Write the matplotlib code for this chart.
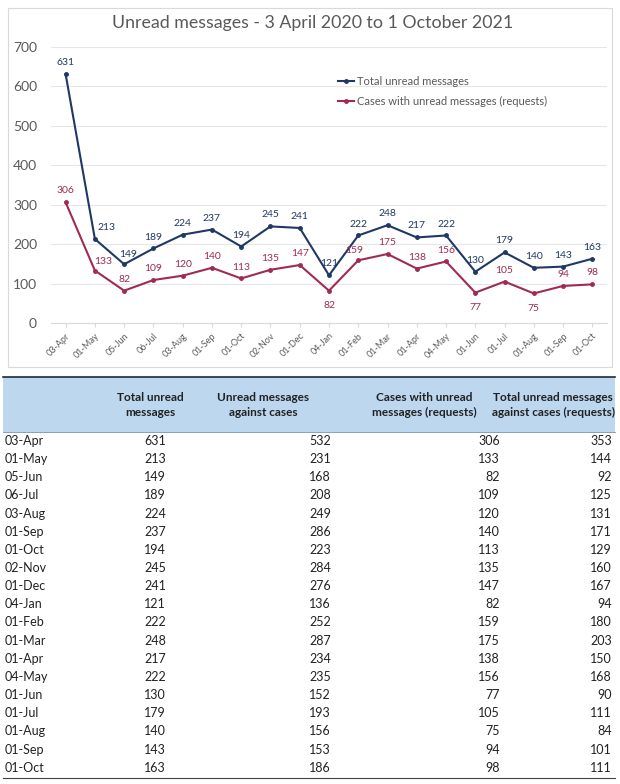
import matplotlib
matplotlib.use('Agg')
import matplotlib.pyplot as plt
from matplotlib.patches import Rectangle
from matplotlib.lines import Line2D

plt.rcParams['font.family'] = ['Lato', 'DejaVu Sans']

W, H = 620, 784

dates = ['03-Apr', '01-May', '05-Jun', '06-Jul', '03-Aug', '01-Sep', '01-Oct', '02-Nov',
         '01-Dec', '04-Jan', '01-Feb', '01-Mar', '01-Apr', '04-May', '01-Jun', '01-Jul',
         '01-Aug', '01-Sep', '01-Oct']
total_unread = [631, 213, 149, 189, 224, 237, 194, 245, 241, 121, 222, 248, 217, 222,
                130, 179, 140, 143, 163]
unread_vs_cases = [532, 231, 168, 208, 249, 286, 223, 284, 276, 136, 252, 287, 234, 235,
                   152, 193, 156, 153, 186]
cases_requests = [306, 133, 82, 109, 120, 140, 113, 135, 147, 82, 159, 175, 138, 156,
                  77, 105, 75, 94, 98]
total_vs_cases_req = [353, 144, 92, 125, 131, 171, 129, 160, 167, 94, 180, 203, 150, 168,
                      90, 111, 84, 101, 111]

headers = ['Total unread\nmessages', 'Unread messages\nagainst cases',
           'Cases with unread\nmessages (requests)', 'Total unread messages\nagainst cases (requests)']

BLUE = '#1F3864'
RED = '#A02B52'
GREY = '#595959'


def fx(x):
    return x / W


def fy(y):
    return 1 - y / H


fig = plt.figure(figsize=(W / 100, H / 100), dpi=100)

# chart frame
fig.patches.append(Rectangle((fx(8), fy(367)), fx(604), 359 / H, transform=fig.transFigure,
                             fill=False, edgecolor='#D9D9D9', linewidth=0.8))

ax = fig.add_axes([fx(51), fy(323), fx(556), 276 / H])
x = list(range(len(dates)))
ax.plot(x, total_unread, color=BLUE, lw=1.5, marker='o', ms=2.5, label='Total unread messages')
ax.plot(x, cases_requests, color=RED, lw=1.5, marker='o', ms=2.5,
        label='Cases with unread messages (requests)')

# label offsets in points (dx, dy); default is centred above
blue_off = {1: (8, 5), 2: (3, 4)}
red_off = {1: (6, 3), 9: (0, -14), 14: (0, -14), 16: (0, -14), 10: (-3, 4)}
for i, v in enumerate(total_unread):
    dx, dy = blue_off.get(i, (0, 5))
    ax.annotate(str(v), (i, v), xytext=(dx, dy), textcoords='offset points',
                ha='center', va='bottom', fontsize=7.5, color=BLUE)
for i, v in enumerate(cases_requests):
    dx, dy = red_off.get(i, (0, 5))
    ax.annotate(str(v), (i, v), xytext=(dx, dy), textcoords='offset points',
                ha='center', va='bottom', fontsize=7.5, color=RED)

ax.set_xlim(-0.5, len(dates) - 0.5)
ax.set_ylim(0, 700)
ax.set_yticks(range(0, 701, 100))
ax.set_xticks(x)
ax.set_xticklabels(dates, rotation=45, ha='right', rotation_mode='anchor', fontsize=6.5, color=GREY)
ax.tick_params(axis='y', length=0, labelsize=10, labelcolor=GREY, pad=10)
ax.tick_params(axis='x', length=3, color='#D9D9D9', pad=3)
ax.grid(axis='y', color='#E6E6E6', lw=0.8)
ax.set_axisbelow(True)
for s in ['top', 'right', 'left']:
    ax.spines[s].set_visible(False)
ax.spines['bottom'].set_color('#D9D9D9')

ax.legend(loc='upper left', bbox_to_anchor=(fx(328), fy(66)), bbox_transform=fig.transFigure,
          frameon=False, fontsize=8, labelcolor=GREY, handlelength=1.4, handletextpad=0.3,
          labelspacing=0.8)

fig.text(fx(313), fy(23), 'Unread messages - 3 April 2020 to 1 October 2021',
         ha='center', va='center', fontsize=12.8, color=GREY)

# table
fig.patches.append(Rectangle((fx(3), fy(432)), fx(612), 55 / H, transform=fig.transFigure,
                             facecolor='#BDD7EE', edgecolor='none'))
fig.lines.append(Line2D([fx(3), fx(615)], [fy(377), fy(377)], transform=fig.transFigure,
                        color='#1F2A3A', lw=1.2))
fig.lines.append(Line2D([fx(3), fx(615)], [fy(432), fy(432)], transform=fig.transFigure,
                        color='#7F8FA0', lw=0.6))
fig.lines.append(Line2D([fx(3), fx(615)], [fy(778), fy(778)], transform=fig.transFigure,
                        color='#404040', lw=0.8))

head_x = [150, 263, 424, 553]
for hx, h in zip(head_x, headers):
    fig.text(fx(hx), fy(405), h, ha='center', va='center', fontsize=8.5, fontweight='bold',
             color='#222222', linespacing=1.35)

col_right = [166, 331, 500, 612]
cols = [total_unread, unread_vs_cases, cases_requests, total_vs_cases_req]
for r, d in enumerate(dates):
    yy = fy(441 + r * 18.15)
    fig.text(fx(5), yy, d, ha='left', va='center', fontsize=9, color='#222222')
    for cx, col in zip(col_right, cols):
        fig.text(fx(cx), yy, str(col[r]), ha='right', va='center', fontsize=9, color='#222222')

fig.savefig('out.png', dpi=100)
